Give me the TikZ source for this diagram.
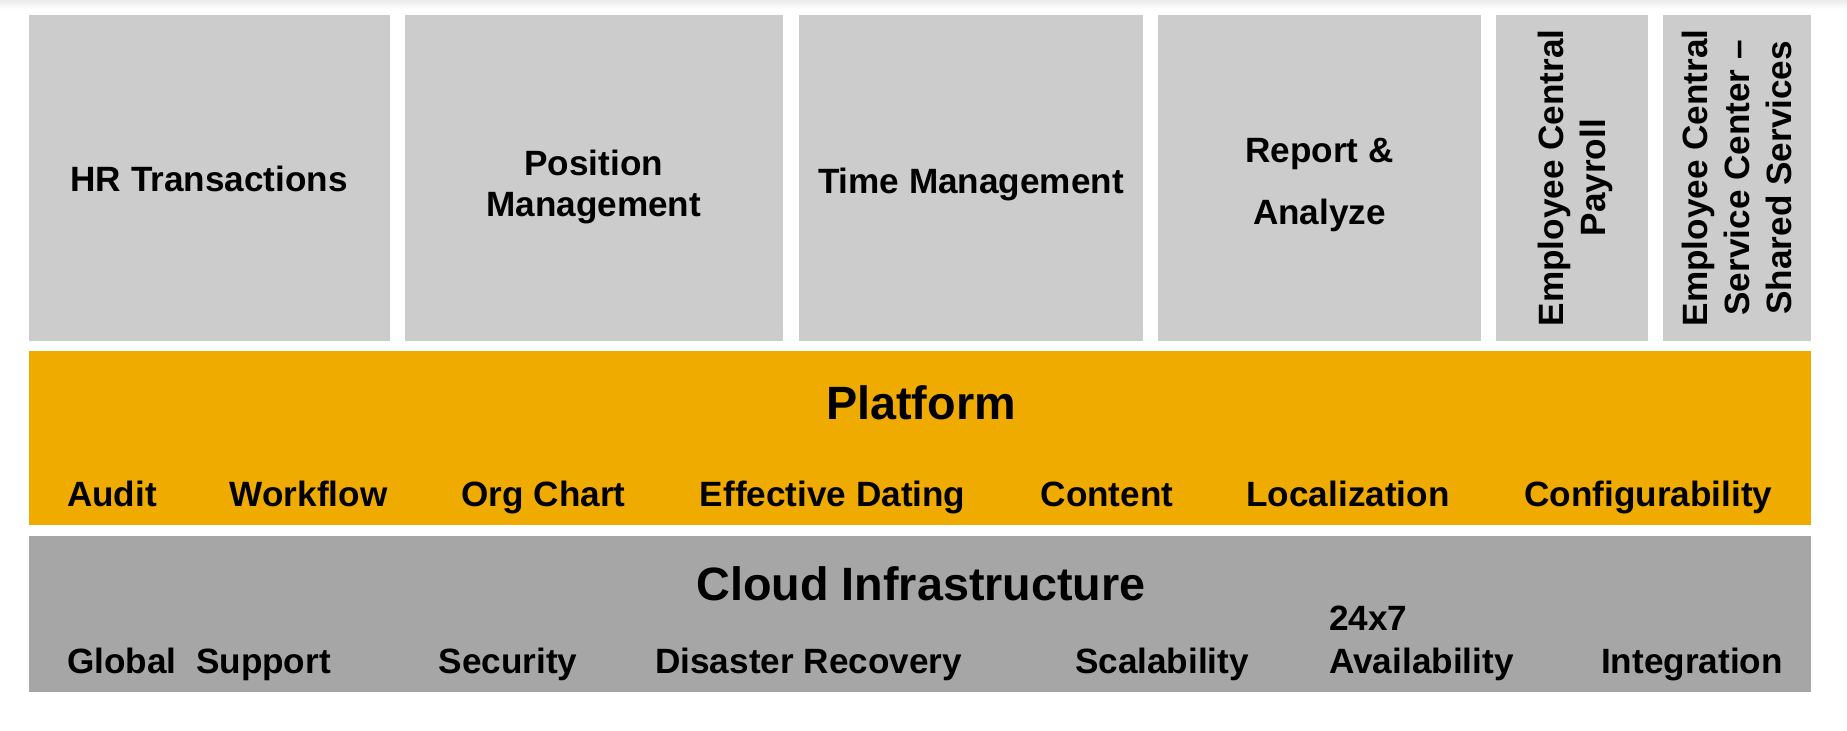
\documentclass[tikz,border=0pt]{standalone}
\usepackage{fontspec}
\setmainfont{Liberation Sans}
\definecolor{modgray}{HTML}{CCCCCC}
\definecolor{platorange}{HTML}{F0AB00}
\definecolor{cloudgray}{HTML}{A6A6A6}

\begin{document}
\begin{tikzpicture}[
    modbox/.style={
        rectangle,
        fill=modgray,
        minimum height=3.255cm,
        inner sep=0pt,
        align=center,
        text depth=0pt
    },
    module/.style={
        modbox,
        text height=8.5pt,
        font=\bfseries\fontsize{10}{11.8}\selectfont
    },
    vmodule/.style={
        modbox,
        rotate=90,
        minimum width=3.255cm,
        font=\bfseries\fontsize{10}{12}\selectfont
    },
    band/.style={
        rectangle,
        inner sep=0pt,
        minimum width=17.815cm
    },
    title/.style={
        anchor=base,
        inner sep=0pt,
        font=\bfseries\fontsize{13.3}{16}\selectfont
    },
    item/.style={
        anchor=base,
        inner sep=0pt,
        font=\bfseries\fontsize{10}{12.3}\selectfont
    }
]
\useasboundingbox (0,0) rectangle (18.47,-7.30);
\shade[top color=black!8, bottom color=white] (0,0) rectangle (18.47,-0.09);

% Modules
\node[module, minimum width=3.605cm, text height=7.9pt] (hr) at (2.0925,-1.7775) {HR Transactions};
\node[module, minimum width=3.775cm, text height=22.1pt] (position) at (5.9375,-1.7775) {Position\\Management};
\node[module, minimum width=3.44cm, text height=9.2pt] (time) at (9.71,-1.7775) {Time Management};
\node[module, minimum width=3.23cm, text height=26.8pt, font=\bfseries\fontsize{10}{17.8}\selectfont] (report) at (13.195,-1.7775) {Report \&\\Analyze};
\node[vmodule, minimum height=1.52cm] (payroll) at (15.72,-1.7775) {Employee Central\\Payroll};
\node[vmodule, minimum height=1.475cm] (ecsc) at (17.3675,-1.7775) {Employee Central\\Service Center –\\Shared Services};

% Platform
\node[band, fill=platorange, minimum height=1.735cm] (platform) at (9.1975,-4.3775) {};
\node[title] (platname) at (9.21,-4.193) {Platform};
\node[item] (audit) at (1.12,-5.06) {Audit};
\node[item] (workflow) at (3.086,-5.06) {Workflow};
\node[item] (orgchart) at (5.436,-5.06) {Org Chart};
\node[item] (dating) at (8.327,-5.06) {Effective Dating};
\node[item] (content) at (11.07,-5.06) {Content};
\node[item] (local) at (13.48,-5.06) {Localization};
\node[item] (config) at (16.484,-5.06) {Configurability};

% Cloud infrastructure
\node[band, fill=cloudgray, minimum height=1.56cm] (cloud) at (9.1975,-6.135) {};
\node[title] (cloudname) at (9.21,-6.00) {Cloud Infrastructure};
\node[item] (support) at (1.99,-6.733) {Global\ \ Support};
\node[item] (security) at (5.08,-6.733) {Security};
\node[item] (recovery) at (8.086,-6.733) {Disaster Recovery};
\node[item] (scale) at (11.62,-6.733) {Scalability};
\node[item, anchor=base west, align=left] (avail) at (13.286,-6.733) {24x7\\Availability};
\node[item] (integration) at (16.92,-6.733) {Integration};

\end{tikzpicture}
\end{document}
